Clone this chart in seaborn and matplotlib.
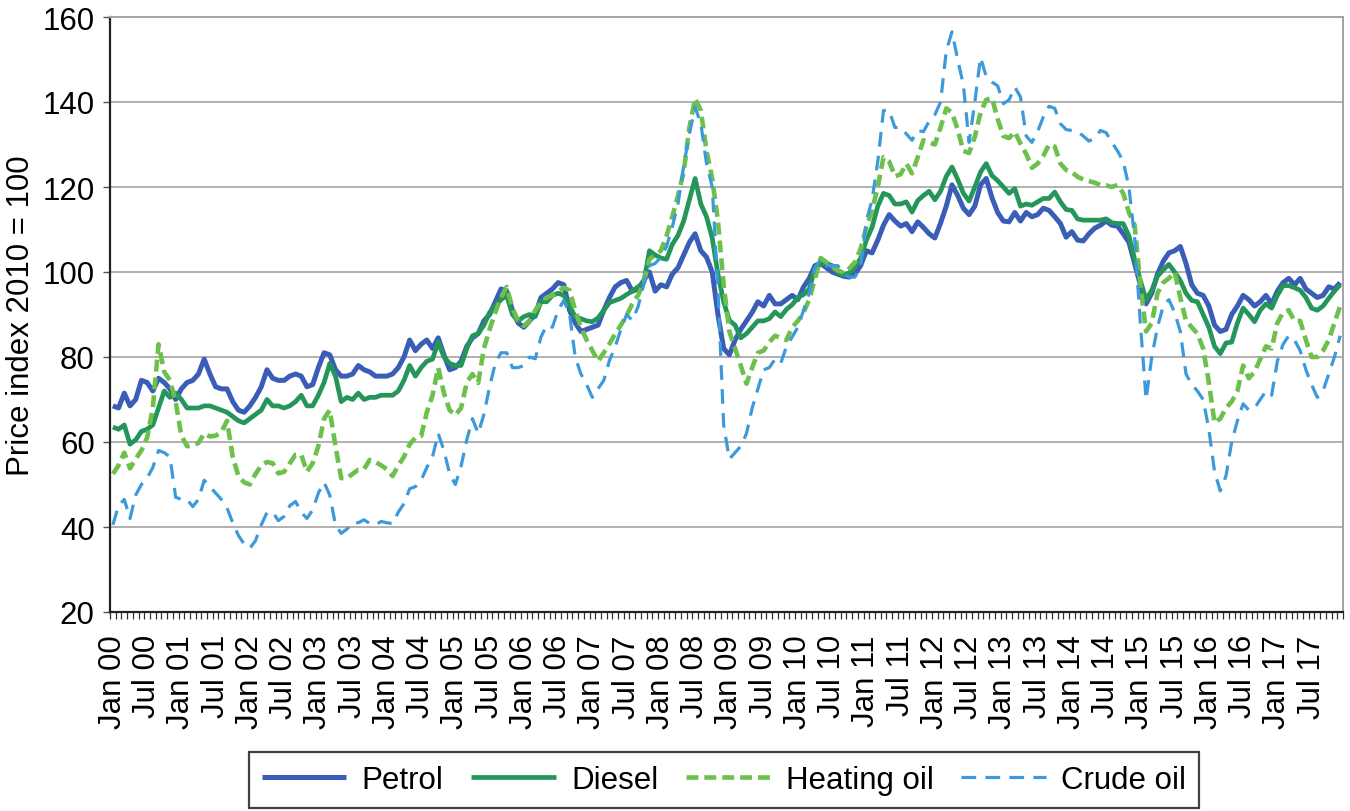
import numpy as np
import pandas as pd
import matplotlib
matplotlib.use("Agg")
import matplotlib.pyplot as plt
import seaborn as sns

# ---------------- data (monthly, Jan 2000 - Dec 2017) ----------------
petrol = [
    68.5, 68, 71.5, 68.5, 70, 74.5, 74, 72, 75, 74, 72.5, 70,
    72.5, 74, 74.5, 76, 79.5, 76, 73, 72.5, 72.5, 69.5, 67.5, 67,
    68.5, 70.5, 73, 77, 75, 74.5, 74.5, 75.5, 76, 75.5, 73, 73.5,
    77.5, 81, 80.5, 77, 75.5, 75.5, 76, 78, 77, 76.5, 75.5, 75.5,
    75.5, 76, 77.5, 80, 84, 81.5, 83, 84, 82, 84.5, 80.5, 77,
    77.5, 79, 82.5, 84.5, 85.5, 88.5, 90, 93, 96, 95.5, 91, 88,
    87, 88.5, 90, 94, 95, 96, 97.5, 97, 91, 88, 86, 86.5,
    87, 87.5, 91, 94, 96.5, 97.5, 98, 95.5, 96, 98, 100, 95.5,
    97, 96.5, 99.5, 101, 104, 107, 109, 105, 103.5, 100, 90, 82,
    80.5, 84, 86.5, 88.5, 90.5, 93, 92, 94.5, 92.5, 92.5, 93.5, 94.5,
    93.5, 96.5, 98.5, 101.5, 102, 101, 100, 99.5, 99, 98.8, 99.5, 101.5,
    105, 104.5, 107.5, 111, 113.5, 112, 110.8, 111.4, 109.5, 111.8, 110.5, 109,
    108, 111.5, 115.5, 120.5, 118, 115, 113.5, 115.5, 120.5, 122, 117.5, 114,
    112, 111.8, 114, 112, 114, 113, 113.5, 115, 114.5, 113, 111.4, 108.2,
    109.5, 107.5, 107.3, 109, 110.3, 111, 112, 111, 110.8, 109, 107, 102,
    97, 92.5, 95, 99.5, 102.5, 104.5, 105, 106, 102, 97, 95, 94.5,
    92, 87.5, 86, 86.5, 90, 92, 94.5, 93.5, 92, 93, 94.5, 92.5,
    95.5, 97.5, 98.5, 97, 98.5, 96, 95, 94, 94.5, 96.5, 96, 97.5,
]
diesel = [
    63.5, 63, 64, 59.5, 60.5, 62.5, 63, 64, 68, 72, 70.5, 71.5,
    70, 68, 68, 68, 68.5, 68.5, 68, 67.5, 67, 66, 65, 64.5,
    65.5, 66.5, 67.5, 70, 68.5, 68.5, 68, 68.5, 69.5, 71, 68.5, 68.5,
    71, 74, 78.5, 75.5, 69.5, 70.5, 70, 71.5, 70, 70.5, 70.5, 71,
    71, 71, 72, 74.5, 78, 75.5, 77.5, 79, 79.5, 83.5, 80, 78.5,
    78, 78, 82, 85, 85.5, 87.5, 90.5, 92, 93.5, 94.5, 90, 88.5,
    89.5, 90, 89.5, 93, 93, 94.5, 95, 94.5, 92, 89.5, 89, 88.5,
    88.3, 89.2, 91, 92.8, 93.3, 93.8, 94.7, 95.5, 96.5, 97.5, 105, 104,
    103.3, 103, 106.5, 108.6, 112, 117, 122, 116, 113, 108, 99.5, 93,
    88.6, 87.5, 84.5, 85.5, 87, 88.5, 88.5, 89, 90.6, 89.5, 91.2, 92.3,
    94, 94.7, 96, 100.8, 102, 102, 101.5, 99.8, 99.2, 99.8, 101.2, 103.2,
    107.5, 110.5, 115.5, 118.5, 118, 116, 116, 116.5, 114.1, 116.8, 118, 119,
    117, 119, 122.5, 124.7, 121.8, 118.5, 116.7, 120, 123.5, 125.5, 122.7, 121.5,
    120, 118.5, 119.6, 115.5, 116, 115.7, 116.5, 117.3, 117.3, 118.8, 116.5, 114.7,
    114.5, 112.5, 112.2, 112.2, 112.2, 112.2, 112.5, 111.6, 111.4, 111.4, 108.5, 103,
    98, 93.5, 95.7, 99, 100.5, 101.8, 100, 98, 95, 93.3, 93, 90,
    87, 82.5, 80.8, 83.3, 83.5, 88, 91.5, 90, 88.3, 91, 92.5, 91.5,
    94.5, 96.8, 96.8, 96.3, 95.7, 94, 91.5, 91, 92, 93.8, 95.5, 97,
]
heating_oil = [
    52.5, 54.5, 57.5, 53.8, 56, 58, 61, 68, 83, 76.5, 74.5, 69.5,
    61.5, 59, 59.2, 59.8, 62, 61.3, 61.5, 62.3, 65, 56.5, 52, 50.5,
    50, 52.5, 54.5, 55.3, 55, 52.6, 53, 55, 57, 57, 53, 55,
    59, 65.5, 67.5, 59, 51.5, 51.5, 52.5, 53.5, 53.6, 55.8, 55.3, 54.5,
    53.6, 52, 54.5, 56.5, 59.5, 61, 61.4, 67, 71, 77.5, 71.5, 67.5,
    66.3, 68, 74, 76, 73.9, 82, 86.5, 90.5, 94, 96.5, 91.5, 88.5,
    87.3, 88.5, 91, 92.9, 94, 94.5, 95.5, 96.3, 95.7, 91, 87, 84,
    81.5, 79, 81, 83.1, 85.5, 87.5, 89.8, 92.5, 94.5, 97.5, 103, 104,
    105, 108.5, 113, 118, 123.5, 134, 140.8, 138, 128.5, 122, 112, 97,
    86, 82, 78, 73.7, 77.5, 81, 81.5, 83.5, 85, 84.5, 84, 87,
    88.5, 90.5, 93.5, 98.5, 103.3, 102.3, 101.2, 100.4, 99.8, 100.8, 102.3, 105.5,
    110.5, 114.5, 120, 127, 126, 122.5, 123, 125.5, 123.2, 127, 131, 130.5,
    130, 134, 138.5, 137.5, 133.5, 128.5, 128, 131.8, 137.5, 140.5, 141, 136,
    132, 131.5, 133, 130.2, 127.8, 124.5, 125.5, 127.3, 130, 129.5, 125.5, 124,
    123.5, 122.4, 121.8, 121.4, 121, 120.5, 120.4, 120, 120.5, 118.5, 114, 111,
    97, 86, 88, 95, 97.5, 98.5, 100, 94, 88.5, 87, 85.5, 82,
    74, 64.5, 65.5, 68, 69.5, 72, 78, 75, 76.5, 79.5, 82.5, 82,
    88, 90.5, 91, 88.5, 88.5, 84, 80, 80, 81.5, 84, 88, 92,
]
crude_oil = [
    40.5, 45, 46.5, 42, 47.5, 50, 51.5, 54, 58, 57.5, 56.5, 47,
    46.5, 46.5, 44.8, 46.5, 51, 49.5, 48, 46.5, 44.5, 41, 38, 36,
    35, 36.8, 40.5, 43.4, 43.5, 41.5, 42.5, 45, 46, 43.5, 42, 44,
    48, 50.5, 47.5, 40.5, 38.5, 39.5, 41, 41, 41.7, 40.8, 40.5, 41.3,
    41, 40.8, 43.5, 45.5, 49, 49.5, 51, 54, 56.5, 62, 58, 52.5,
    50, 54.3, 60.5, 65.5, 62, 66.5, 73, 78.5, 81, 81, 77.5, 77.5,
    78, 80, 79.6, 84.7, 87.5, 87, 91, 93.3, 90.2, 80, 76, 73.5,
    70.5, 72.5, 74.5, 79.2, 82.4, 86.5, 90, 88.6, 91.8, 97, 101.5, 102,
    103.5, 106, 110.6, 116, 125, 132.5, 138.8, 134.9, 125.5, 120, 96, 64,
    56, 57.5, 59, 62, 68, 72.5, 77, 77.5, 79.5, 78.5, 82.5, 84.7,
    87, 91, 95, 101, 103, 101.5, 101.5, 101.5, 99.6, 98.8, 98.8, 101.5,
    112, 117, 126, 138, 138, 134, 134, 132.5, 131, 133.3, 133, 135.5,
    137, 140, 152, 156.5, 150, 144, 130.5, 140, 150.5, 146, 144.7, 143.8,
    139.6, 140.5, 143.5, 141.2, 132, 130.5, 133, 136.5, 139, 138.5, 134.9, 133.5,
    133.3, 133, 132, 130.8, 131.5, 133.3, 132.8, 130.5, 128.5, 126, 120, 108,
    88, 70, 80, 87, 92, 93.5, 90.5, 86, 76, 73.5, 72, 70,
    63, 53, 48.5, 52, 60, 65, 69, 67.5, 68, 70, 72, 71,
    79, 83, 85, 84, 81.5, 77, 73.5, 70.5, 72, 76, 80, 85,
]
series_names = ["Petrol", "Diesel", "Heating oil", "Crude oil"]
tick_labels = [
    "Jan 00", "Jul 00", "Jan 01", "Jul 01", "Jan 02", "Jul 02", "Jan 03", "Jul 03",
    "Jan 04", "Jul 04", "Jan 05", "Jul 05", "Jan 06", "Jul 06", "Jan 07", "Jul 07",
    "Jan 08", "Jul 08", "Jan 09", "Jul 09", "Jan 10", "Jul 10", "Jan 11", "Jul 11",
    "Jan 12", "Jul 12", "Jan 13", "Jul 13", "Jan 14", "Jul 14", "Jan 15", "Jul 15",
    "Jan 16", "Jul 16", "Jan 17", "Jul 17",
]
y_ticks = [20, 40, 60, 80, 100, 120, 140, 160]

n = len(petrol)
month_idx = np.arange(n)
df = pd.concat([
    pd.DataFrame({"month": month_idx, "value": vals, "series": name})
    for name, vals in zip(series_names, [petrol, diesel, heating_oil, crude_oil])
], ignore_index=True)

# ---------------- style ----------------
sns.set_theme(style="white")
plt.rcParams["font.family"] = ["Liberation Sans", "DejaVu Sans"]
plt.rcParams["text.color"] = "black"
plt.rcParams["axes.labelcolor"] = "black"
plt.rcParams["xtick.color"] = "black"
plt.rcParams["ytick.color"] = "black"

colors = {"Petrol": "#3A5DB6", "Diesel": "#25965A",
          "Heating oil": "#6CC04B", "Crude oil": "#3C9ADB"}
widths = {"Petrol": 3.6, "Diesel": 3.4, "Heating oil": 3.3, "Crude oil": 2.3}
dash_map = {"Petrol": None, "Diesel": None,
            "Heating oil": (2.6, 1.3), "Crude oil": (4.6, 2.9)}

FS = 22.5
W, H = 1350, 812
fig = plt.figure(figsize=(W / 100, H / 100), dpi=100)
L, R, T, B = 110, 1343, 18, 613
ax = fig.add_axes([L / W, 1 - B / H, (R - L) / W, (B - T) / H])

handles = []
for name in series_names:
    sub = df[df["series"] == name]
    sns.lineplot(data=sub, x="month", y="value", ax=ax, color=colors[name],
                 linewidth=widths[name], legend=False, zorder=3)
    line = ax.lines[-1]
    if dash_map[name] is not None:
        line.set_dashes(dash_map[name])
    line.set_solid_capstyle("butt")
    line.set_dash_capstyle("butt")
    handles.append(line)

ax.set_xlim(-0.5, n - 0.5)
ax.set_ylim(20, 160)
ax.set_yticks(y_ticks)
ax.set_yticklabels([str(v) for v in y_ticks], fontsize=FS, color="black")
ax.yaxis.grid(True, color="#A3A3A3", linewidth=1.2)
ax.xaxis.grid(False)
ax.set_axisbelow(True)

ax.set_xticks(np.arange(0, n, 6))
ax.set_xticklabels(tick_labels, rotation=90, fontsize=FS, color="black")
ax.set_xticks(np.arange(-0.5, n, 1), minor=True)
ax.tick_params(axis="x", which="major", length=0, pad=16)
ax.tick_params(axis="x", which="minor", length=5, width=0.9, color="#333333",
               direction="out", bottom=True)
ax.tick_params(axis="y", which="major", length=5, width=1.0, color="#555555",
               direction="out", left=True, pad=6)

ax.set_xlabel("")
ax.set_ylabel("Price index 2010 = 100", fontsize=FS, labelpad=5, color="black")

for s in ["left", "bottom"]:
    ax.spines[s].set_color("#222222")
    ax.spines[s].set_linewidth(1.6)
for s in ["top", "right"]:
    ax.spines[s].set_color("#A3A3A3")
    ax.spines[s].set_linewidth(1.4)

leg = fig.legend(handles, series_names, loc="center",
                 bbox_to_anchor=(724 / W, 1 - 781 / H), ncol=4, fontsize=FS,
                 frameon=True, fancybox=False, edgecolor="#111111",
                 handlelength=2.7, handletextpad=0.5, columnspacing=0.88,
                 borderpad=0.42)
leg.get_frame().set_linewidth(1.6)
for t in leg.get_texts():
    t.set_color("black")

fig.savefig("out.png", dpi=100)
